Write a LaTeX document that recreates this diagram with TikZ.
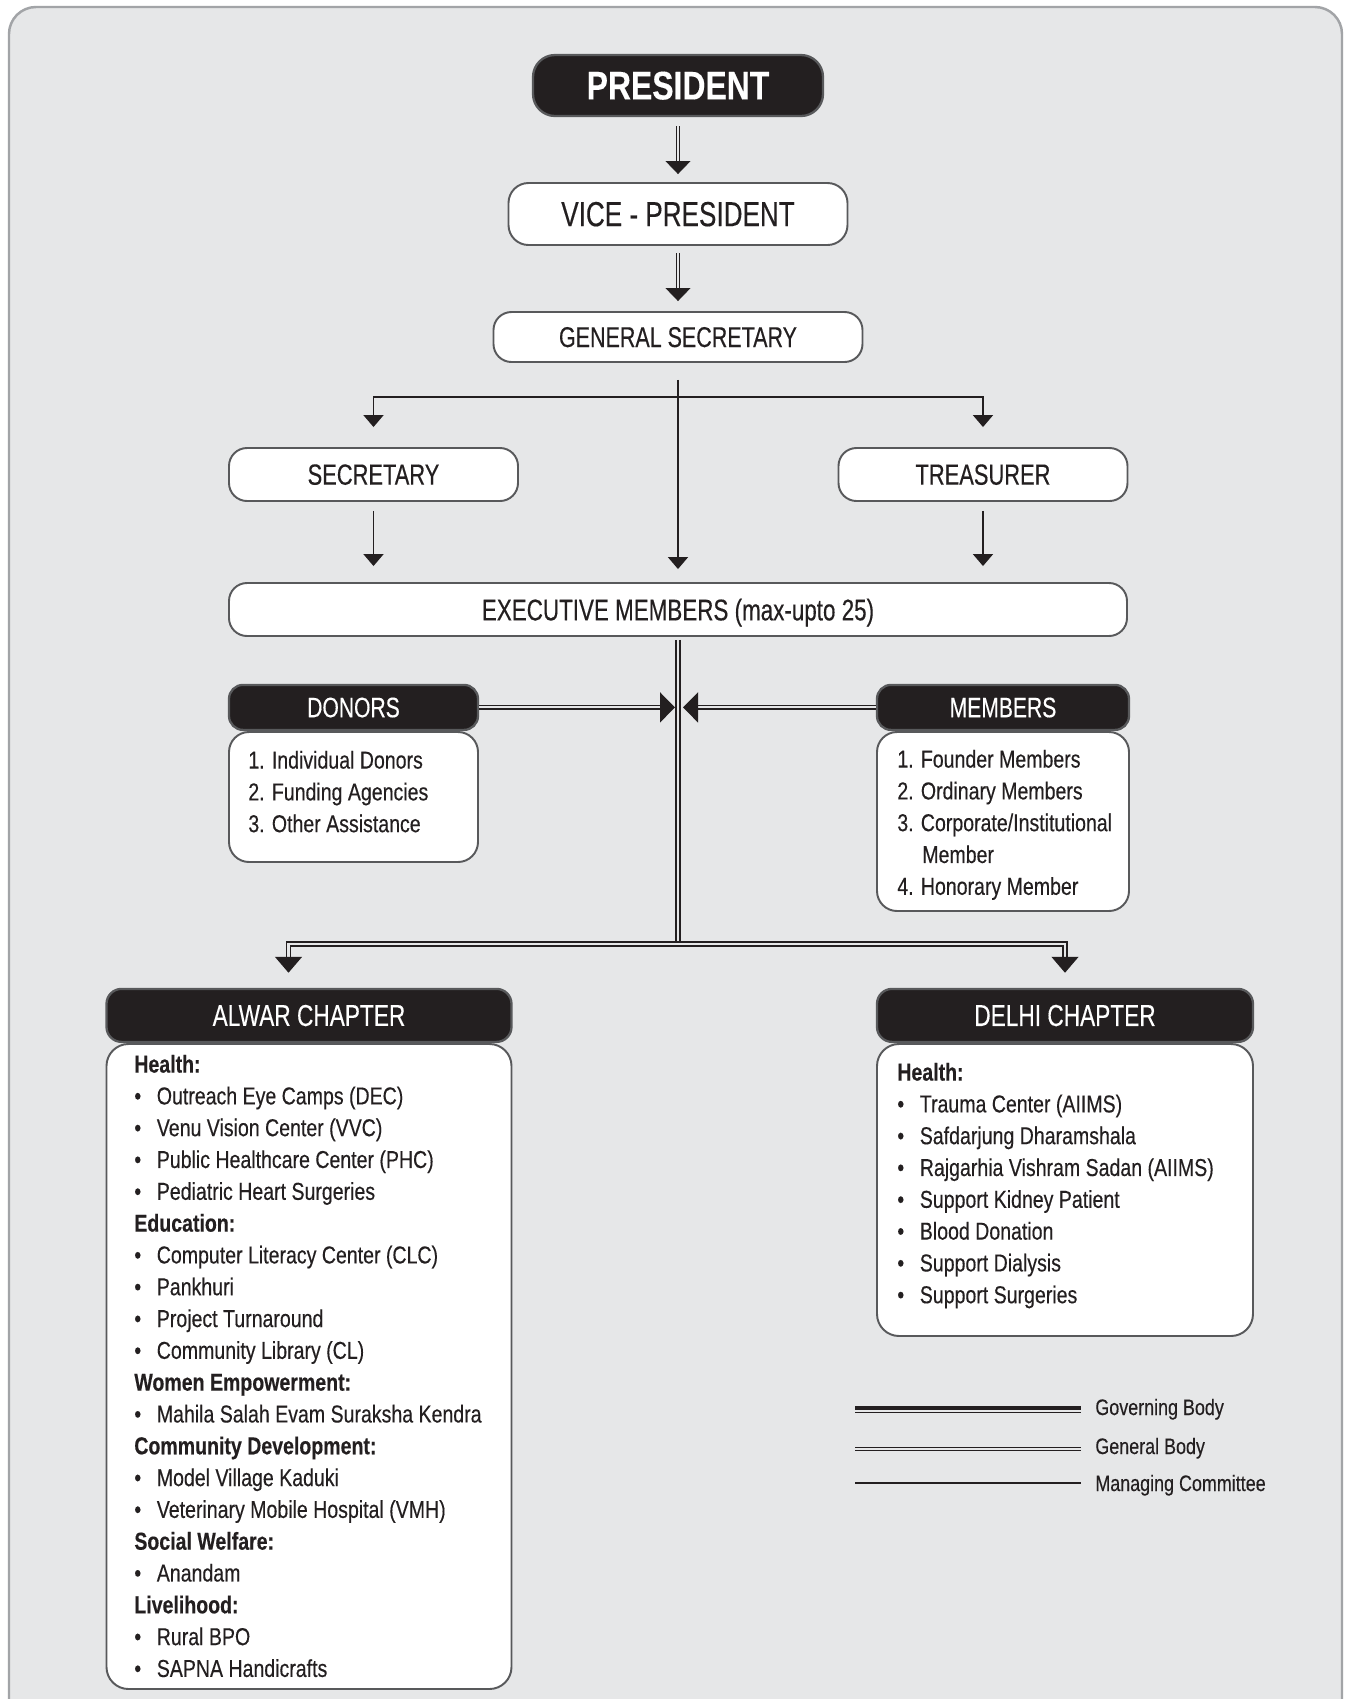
\documentclass[tikz,border=0pt]{standalone}
\usepackage{fontspec}
\setmainfont{Liberation Sans}[FakeStretch=0.8, FakeBold=0.3]
\newfontfamily\titlefont{Liberation Sans}[FakeStretch=0.75, FakeBold=0.3]
\usepackage{tikz}
\usetikzlibrary{positioning,arrows.meta}

\definecolor{bggray}{HTML}{E6E7E8}
\definecolor{framegray}{HTML}{A2A4A7}
\definecolor{boxline}{HTML}{58595B}
\definecolor{ink}{HTML}{231F20}

\newcommand{\hd}[1]{\textbf{#1}}
\newcommand{\bl}{\makebox[12.8pt][l]{\textbullet}}

\tikzset{
  whitebox/.style={draw=boxline, line width=1.1pt, fill=white, text=ink, rounded corners=3.6mm, inner sep=0pt, text depth=0pt},
  darkbox/.style={draw=boxline, line width=1.3pt, fill=ink, text=white, rounded corners=2.8mm, inner sep=0pt, text depth=0pt},
  listtext/.style={align=left, anchor=north west, inner sep=0pt, text=ink, font=\fontsize{13.9}{18.1}\selectfont},
  legendtext/.style={anchor=base west, inner sep=0pt, text=ink, font=\fontsize{12.75}{15}\selectfont},
  mng/.style={draw=ink, line width=1.1pt},
  gen/.style={draw=ink, line width=0.5pt, double=bggray, double distance=1.1pt},
  gov/.style={draw=ink, line width=0.9pt, double=bggray, double distance=1.2pt}
}

\begin{document}
\begin{tikzpicture}[x=0.2mm, y=-0.2mm]

  % page and panel
  \path[use as bounding box, fill=white] (0,0) rectangle (1351,1699);
  \draw[draw=framegray, line width=1.4pt, fill=bggray, rounded corners=5.4mm] (9,7) rectangle (1342,1760);

  % top of the chart
  \node[darkbox, minimum width=58mm, minimum height=12.2mm, rounded corners=4.4mm, font=\fontsize{22.7}{26}\selectfont\bfseries] (pres) at (678,85.5) {PRESIDENT};
  \node[whitebox, minimum width=67.8mm, minimum height=12.4mm, rounded corners=4mm, font=\titlefont\fontsize{19.8}{22}\selectfont] (vice) at (678,214) {VICE - PRESIDENT};
  \node[whitebox, minimum width=73.8mm, minimum height=10mm, font=\titlefont\fontsize{16.3}{18}\selectfont] (gensec) at (678,337) {GENERAL SECRETARY};
  \node[whitebox, minimum width=57.8mm, minimum height=10.6mm, font=\titlefont\fontsize{16.6}{18}\selectfont] (sec) at (373.5,474.5) {SECRETARY};
  \node[whitebox, minimum width=57.8mm, minimum height=10.6mm, font=\titlefont\fontsize{16.6}{18}\selectfont] (treas) at (983,474.5) {TREASURER};
  \node[whitebox, minimum width=179.6mm, minimum height=10.6mm, font=\titlefont\fontsize{17}{19}\selectfont] (exec) at (678,609.5) {EXECUTIVE MEMBERS (max-upto 25)};

  % donors and members
  \node[whitebox, minimum width=49.8mm, minimum height=26mm, rounded corners=4mm] (donorbody) at (353.5,797) {};
  \node[darkbox, minimum width=49.8mm, minimum height=9mm, above=0mm of donorbody, font=\titlefont\fontsize{16}{18}\selectfont] (donorhead) {DONORS};
  \node[listtext] (donorlist) at (248,750.5) {1. Individual Donors\\2. Funding Agencies\\3. Other Assistance};

  \node[whitebox, minimum width=50.4mm, minimum height=35.8mm, rounded corners=4mm] (memberbody) at (1003,821.5) {};
  \node[darkbox, minimum width=50.4mm, minimum height=9mm, above=0mm of memberbody, font=\titlefont\fontsize{16}{18}\selectfont] (memberhead) {MEMBERS};
  \node[listtext] (memberlist) at (897,749.5) {1. Founder Members\\2. Ordinary Members\\3. Corporate/Institutional\\\hspace*{14.2pt}Member\\4. Honorary Member};

  % chapters
  \node[whitebox, minimum width=81mm, minimum height=129mm, rounded corners=4.4mm] (alwarbody) at (309,1366.5) {};
  \node[darkbox, minimum width=81mm, minimum height=10.6mm, rounded corners=3mm, above=0mm of alwarbody, font=\titlefont\fontsize{17.2}{19}\selectfont] (alwarhead) {ALWAR CHAPTER};
  \node[listtext] (alwarlist) at (134,1054.5) {\hd{Health:}\\\bl Outreach Eye Camps (DEC)\\\bl Venu Vision Center (VVC)\\\bl Public Healthcare Center (PHC)\\\bl Pediatric Heart Surgeries\\
    \hd{Education:}\\\bl Computer Literacy Center (CLC)\\\bl Pankhuri\\\bl Project Turnaround\\\bl Community Library (CL)\\
    \hd{Women Empowerment:}\\\bl Mahila Salah Evam Suraksha Kendra\\
    \hd{Community Development:}\\\bl Model Village Kaduki\\\bl Veterinary Mobile Hospital (VMH)\\
    \hd{Social Welfare:}\\\bl Anandam\\
    \hd{Livelihood:}\\\bl Rural BPO\\\bl SAPNA Handicrafts};

  \node[whitebox, minimum width=75.2mm, minimum height=58.4mm, rounded corners=4.4mm] (delhibody) at (1065,1190) {};
  \node[darkbox, minimum width=75.2mm, minimum height=10.6mm, rounded corners=3mm, above=0mm of delhibody, font=\titlefont\fontsize{17.2}{19}\selectfont] (delhihead) {DELHI CHAPTER};
  \node[listtext] (delhilist) at (897,1062.5) {\hd{Health:}\\\bl Trauma Center (AIIMS)\\\bl Safdarjung Dharamshala\\\bl Rajgarhia Vishram Sadan (AIIMS)\\\bl Support Kidney Patient\\\bl Blood Donation\\\bl Support Dialysis\\\bl Support Surgeries};

  % connectors
  \coordinate (fork) at (678,397);
  \coordinate (split) at (678,944);
  \draw[gen, -{Triangle[width=5mm,length=2.6mm]}, shorten <=1.8mm, shorten >=1.6mm] (pres) -- (vice);
  \draw[gen, -{Triangle[width=5mm,length=2.6mm]}, shorten <=1.4mm, shorten >=2mm] (vice) -- (gensec);
  \draw[mng, -{Triangle[width=4mm,length=2.4mm]}, shorten <=3.4mm, shorten >=2.6mm] (gensec) -- (exec);
  \draw[mng, -{Triangle[width=4mm,length=2.4mm]}, shorten >=4mm] (fork) -| (sec);
  \draw[mng, -{Triangle[width=4mm,length=2.4mm]}, shorten >=4mm] (fork) -| (treas);
  \draw[mng, -{Triangle[width=4mm,length=2.4mm]}, shorten <=1.8mm, shorten >=3.2mm] (sec) -- (sec |- exec.north);
  \draw[mng, -{Triangle[width=4mm,length=2.4mm]}, shorten <=1.8mm, shorten >=3.2mm] (treas) -- (treas |- exec.north);
  \draw[gov, shorten <=0.6mm] (exec) -- (split);
  \draw[gov, -{Triangle[width=6mm,length=3mm]}, shorten >=0.6mm] (donorhead) -- (donorhead -| split);
  \draw[gov, -{Triangle[width=6mm,length=3mm]}, shorten >=1mm] (memberhead) -- (memberhead -| split);
  \draw[gov, -{Triangle[width=5.4mm,length=3.2mm]}, shorten >=3mm] (split) -| ([xshift=-4.1mm]alwarhead.north);
  \draw[gov, -{Triangle[width=5.4mm,length=3.2mm]}, shorten >=3mm] (split) -| (delhihead);

  % legend
  \coordinate (gb1) at (855,1408); \coordinate (gb2) at (1081,1408);
  \coordinate (gn1) at (855,1449); \coordinate (gn2) at (1081,1449);
  \coordinate (mc1) at (855,1483); \coordinate (mc2) at (1081,1483);
  \draw[mng, line width=2pt] (gb1) -- (gb2);
  \draw[ink, line width=0.6pt] ([yshift=-2.3pt]gb1) -- ([yshift=-2.3pt]gb2);
  \draw[gen] (gn1) -- (gn2);
  \draw[mng] (mc1) -- (mc2);
  \node[legendtext] (gbtext) at (1095,1415) {Governing Body};
  \node[legendtext] (gntext) at (1095,1454) {General Body};
  \node[legendtext] (mctext) at (1095,1491) {Managing Committee};

\end{tikzpicture}
\end{document}
